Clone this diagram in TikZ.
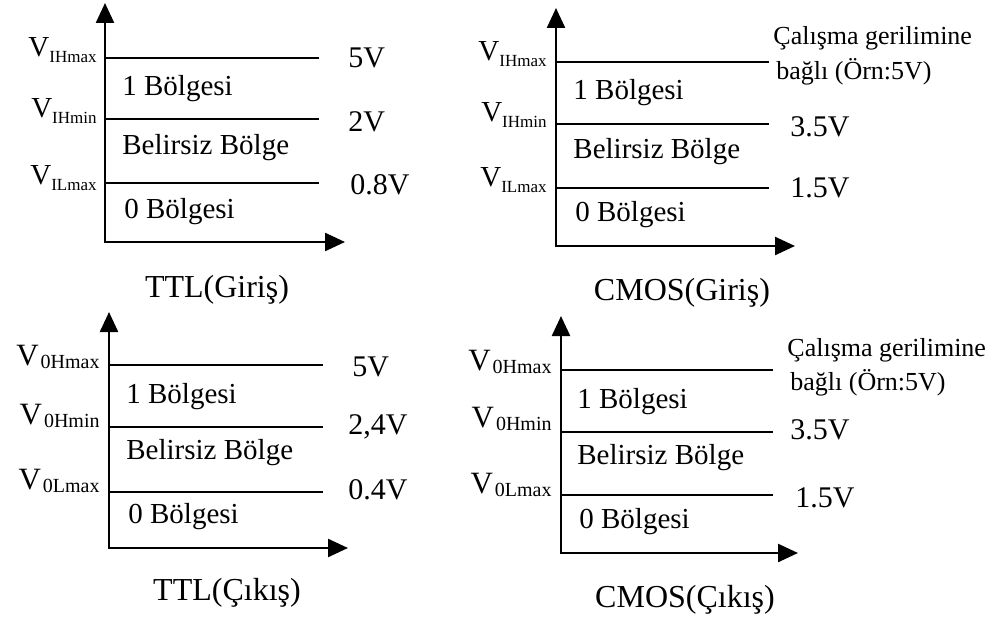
\documentclass[tikz,border=0pt]{standalone}
\usepackage{fontspec}
\setmainfont{Liberation Serif}
\usetikzlibrary{arrows.meta}
\newcommand\vlabin[1]{V\raisebox{-3pt}{\fontsize{8.5}{10}\selectfont #1}}
\newcommand\vlabout[1]{V\kern1pt\raisebox{-1.5pt}{\fontsize{10}{12}\selectfont #1}}

\begin{document}
\begin{tikzpicture}[x=0.5pt,y=-0.5pt,
  axes/.style={line width=1.2pt,{Triangle[length=10pt,width=9pt]}-{Triangle[length=10pt,width=9pt]}},
  lvl/.style={line width=1pt},
  region/.style={anchor=west,inner sep=0pt,font=\fontsize{14.5}{17}\selectfont},
  val/.style={anchor=west,inner sep=0pt,font=\fontsize{15}{18}\selectfont},
  note/.style={anchor=west,inner sep=0pt,font=\fontsize{13}{15}\selectfont},
  vin/.style={anchor=east,inner sep=0pt,font=\fontsize{14.5}{17}\selectfont},
  vout/.style={anchor=east,inner sep=0pt,font=\fontsize{15.5}{18}\selectfont},
  title/.style={inner sep=0pt,font=\fontsize{16}{19}\selectfont}]
\useasboundingbox (0,0) rectangle (996,626);

\coordinate (t1) at (105,3);
\coordinate (o1) at (105,242);
\coordinate (r1) at (345,242);
\draw[axes] (t1) -- (o1) -- (r1);
\foreach \y in {58,119,183} \draw[lvl] (105,\y) -- (319,\y);
\node[vin] (ihmax1) at (97,50) {\vlabin{IHmax}};
\node[vin] (ihmin1) at (97,111) {\vlabin{IHmin}};
\node[vin] (ilmax1) at (97,178) {\vlabin{ILmax}};
\node[val] (v5a) at (348,58) {5V};
\node[val] (v2a) at (348,122) {2V};
\node[val] (v08a) at (350,185) {0.8V};
\node[region] (one1) at (122,89) {1 Bölgesi};
\node[region] (mid1) at (122,148) {Belirsiz Bölge};
\node[region] (zero1) at (124,212) {0 Bölgesi};
\node[title] (ttlin) at (217,290) {TTL(Giriş)};

\coordinate (t2) at (556,8);
\coordinate (o2) at (556,246);
\coordinate (r2) at (795,246);
\draw[axes] (t2) -- (o2) -- (r2);
\foreach \y in {62,124,188} \draw[lvl] (556,\y) -- (769,\y);
\node[vin] (ihmax2) at (547,54) {\vlabin{IHmax}};
\node[vin] (ihmin2) at (547,115) {\vlabin{IHmin}};
\node[vin] (ilmax2) at (547,180) {\vlabin{ILmax}};
\node[note] (dep2) at (773,38) {Çalışma gerilimine};
\node[note] (ex2) at (776,72) {bağlı (Örn:5V)};
\node[val] (v35b) at (790,127) {3.5V};
\node[val] (v15b) at (790,188) {1.5V};
\node[region] (one2) at (573,93) {1 Bölgesi};
\node[region] (mid2) at (573,152) {Belirsiz Bölge};
\node[region] (zero2) at (575,215) {0 Bölgesi};
\node[title] (cmosin) at (682,293) {CMOS(Giriş)};

\coordinate (t3) at (109,312);
\coordinate (o3) at (109,548);
\coordinate (r3) at (348,548);
\draw[axes] (t3) -- (o3) -- (r3);
\foreach \y in {365,427,492} \draw[lvl] (109,\y) -- (323,\y);
\node[vout] (ohmax3) at (100,357) {\vlabout{0Hmax}};
\node[vout] (ohmin3) at (100,416) {\vlabout{0Hmin}};
\node[vout] (olmax3) at (100,481) {\vlabout{0Lmax}};
\node[val] (v5c) at (352,367) {5V};
\node[val] (v24c) at (348,427) {2,4V};
\node[val] (v04c) at (348,490) {0.4V};
\node[region] (one3) at (126,397) {1 Bölgesi};
\node[region] (mid3) at (126,453) {Belirsiz Bölge};
\node[region] (zero3) at (128,517) {0 Bölgesi};
\node[title] (ttlout) at (227,593) {TTL(Çıkış)};

\coordinate (t4) at (561,316);
\coordinate (o4) at (561,553);
\coordinate (r4) at (798,553);
\draw[axes] (t4) -- (o4) -- (r4);
\foreach \y in {370,432,495} \draw[lvl] (561,\y) -- (773,\y);
\node[vout] (ohmax4) at (552,362) {\vlabout{0Hmax}};
\node[vout] (ohmin4) at (552,419) {\vlabout{0Hmin}};
\node[vout] (olmax4) at (552,485) {\vlabout{0Lmax}};
\node[note] (dep4) at (787,350) {Çalışma gerilimine};
\node[note] (ex4) at (790,383) {bağlı (Örn:5V)};
\node[val] (v35d) at (790,430) {3.5V};
\node[val] (v15d) at (795,498) {1.5V};
\node[region] (one4) at (577,402) {1 Bölgesi};
\node[region] (mid4) at (577,458) {Belirsiz Bölge};
\node[region] (zero4) at (579,522) {0 Bölgesi};
\node[title] (cmosout) at (685,600) {CMOS(Çıkış)};
\end{tikzpicture}
\end{document}
